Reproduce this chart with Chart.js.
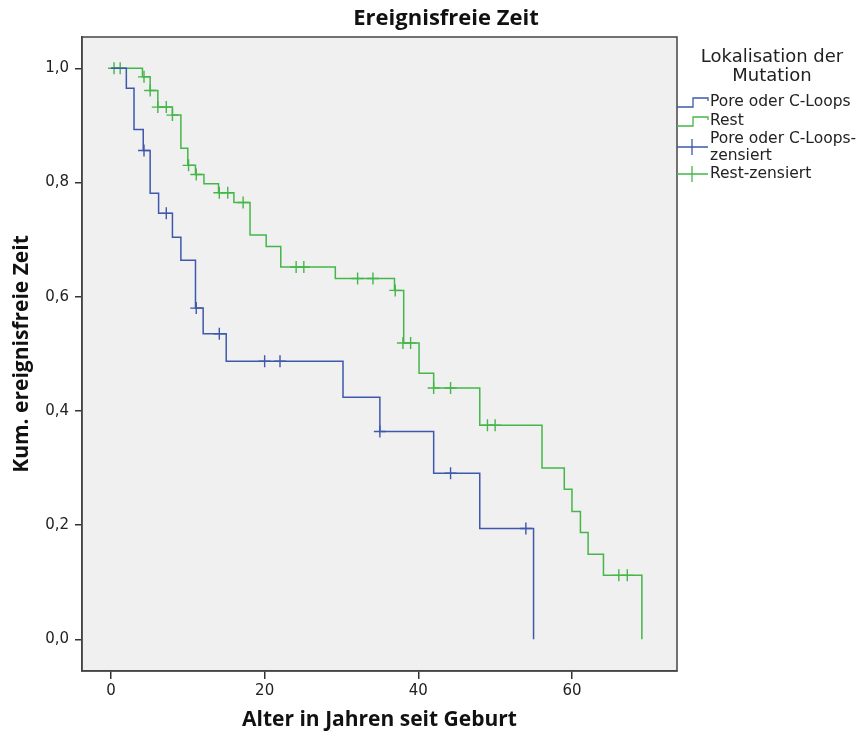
<!DOCTYPE html>
<html>
<head>
<meta charset="utf-8">
<script src="https://cdn.jsdelivr.net/npm/chart.js@4.4.1/dist/chart.umd.min.js"></script>
<style>
  html, body { margin: 0; padding: 0; background: #fff; }
  #wrap { width: 864px; height: 735px; position: relative; }
</style>
</head>
<body>
<div id="wrap"><canvas id="km" width="864" height="735"></canvas></div>
<script>
// Kaplan-Meier steps: time (years) and survival after the drop
const poreT = [0, 2, 3, 4.2, 5.1, 6.2, 8.0, 9.1, 11, 12, 15, 30.2, 35, 42, 48, 55];
const poreS = [1.0, 0.965, 0.893, 0.856, 0.781, 0.746, 0.704, 0.664, 0.58, 0.535, 0.487, 0.424, 0.364, 0.291, 0.194, 0.0];
const restT = [0, 4.1, 5.1, 6.1, 8, 9.1, 10, 11, 12.1, 14, 16, 18.1, 20.2, 22.1, 29.2, 36.9, 38.1, 40.1, 42, 48, 56.1, 59, 60, 61.1, 62.1, 64.1, 69.1];
const restS = [1.0, 0.985, 0.961, 0.932, 0.918, 0.86, 0.83, 0.814, 0.798, 0.782, 0.765, 0.708, 0.688, 0.652, 0.632, 0.611, 0.519, 0.466, 0.44, 0.375, 0.30, 0.263, 0.224, 0.187, 0.149, 0.112, 0.0];
// censored observations
const poreCensT = [4.3, 7.2, 11.1, 14.1, 20, 22, 35, 44.2, 54];
const poreCensS = [0.856, 0.746, 0.58, 0.535, 0.487, 0.487, 0.364, 0.291, 0.194];
const restCensT = [0.4, 1.2, 4.3, 5.1, 6.1, 7.2, 8, 10.1, 11.1, 14.1, 15.2, 17.2, 24.1, 25.1, 32.1, 34.1, 37, 38, 39, 42, 44.2, 49, 50, 66.1, 67.2];
const restCensS = [1.0, 1.0, 0.985, 0.961, 0.932, 0.932, 0.918, 0.83, 0.814, 0.782, 0.782, 0.765, 0.652, 0.652, 0.632, 0.632, 0.611, 0.519, 0.519, 0.44, 0.44, 0.375, 0.375, 0.112, 0.112];

const xTicks = [0, 20, 40, 60];
const yTicks = [0, 0.2, 0.4, 0.6, 0.8, 1.0];

const BLUE = '#3e58ac', GREEN = '#45b649';
const pts = (t, s) => t.map((v, i) => ({ x: v, y: s[i] }));

const frame = {
  id: 'frame',
  beforeDraw(c) {
    const a = c.chartArea, ctx = c.ctx;
    ctx.save();
    ctx.fillStyle = '#f0f0f0';
    ctx.fillRect(a.left, a.top, a.right - a.left, a.bottom - a.top);
    ctx.restore();
  },
  afterDraw(c) {
    const a = c.chartArea, ctx = c.ctx;
    ctx.save();
    ctx.strokeStyle = '#444';
    ctx.lineWidth = 1.5;
    ctx.strokeRect(a.left, a.top, a.right - a.left, a.bottom - a.top);

    // title
    ctx.fillStyle = '#111';
    ctx.textAlign = 'center';
    ctx.textBaseline = 'middle';
    ctx.font = 'bold 22px "Open Sans"';
    ctx.fillText('Ereignisfreie Zeit', 446, 19);

    // legend
    ctx.font = '18px "DejaVu Sans"';
    ctx.fillStyle = '#222';
    ctx.fillText('Lokalisation der', 772, 57);
    ctx.fillText('Mutation', 772, 76);
    ctx.textAlign = 'left';
    ctx.font = '15.5px "DejaVu Sans"';
    ctx.fillText('Pore oder C-Loops', 710, 102);
    ctx.fillText('Rest', 710, 121);
    ctx.fillText('Pore oder C-Loops-', 710, 139);
    ctx.fillText('zensiert', 710, 156);
    ctx.fillText('Rest-zensiert', 710, 174);

    ctx.lineWidth = 1.3;
    const step = (y, col) => {
      ctx.strokeStyle = col;
      ctx.beginPath();
      ctx.moveTo(677, y + 5); ctx.lineTo(693, y + 5); ctx.lineTo(693, y - 4);
      ctx.lineTo(708, y - 4); ctx.lineTo(708, y - 1);
      ctx.stroke();
    };
    step(102, BLUE);
    step(121, GREEN);
    const cens = (y, col) => {
      ctx.strokeStyle = col;
      ctx.beginPath();
      ctx.moveTo(677, y); ctx.lineTo(708, y);
      ctx.moveTo(692, y - 8); ctx.lineTo(692, y + 8);
      ctx.stroke();
    };
    cens(147, BLUE);
    cens(174, GREEN);
    ctx.restore();
  }
};

new Chart(document.getElementById('km'), {
  type: 'line',
  data: {
    datasets: [
      { label: 'Pore oder C-Loops', data: pts(poreT, poreS), stepped: 'before', borderColor: BLUE, borderWidth: 1.5, pointRadius: 0, fill: false },
      { label: 'Rest', data: pts(restT, restS), stepped: 'before', borderColor: GREEN, borderWidth: 1.5, pointRadius: 0, fill: false },
      { label: 'Pore oder C-Loops-zensiert', type: 'scatter', data: pts(poreCensT, poreCensS), pointStyle: 'cross', pointRadius: 6, borderColor: BLUE, borderWidth: 1.4 },
      { label: 'Rest-zensiert', type: 'scatter', data: pts(restCensT, restCensS), pointStyle: 'cross', pointRadius: 6, borderColor: GREEN, borderWidth: 1.4 }
    ]
  },
  options: {
    responsive: false,
    animation: false,
    layout: { padding: { top: 37, right: 187, left: 0, bottom: 0 } },
    plugins: { legend: { display: false }, tooltip: { enabled: false } },
    scales: {
      x: {
        type: 'linear', min: -3.77, max: 73.67,
        afterFit: s => { s.height = 64; },
        afterBuildTicks: s => { s.ticks = xTicks.map(v => ({ value: v })); },
        grid: { drawOnChartArea: false, tickLength: 8, color: '#333', lineWidth: 1.5 },
        border: { color: '#444', width: 1.5 },
        ticks: { padding: 3, color: '#222', font: { family: 'DejaVu Sans', size: 15 }, callback: v => String(v) },
        title: { display: true, text: 'Alter in Jahren seit Geburt', color: '#111', padding: { top: 0, bottom: 2 }, font: { family: 'Open Sans', size: 21, weight: 'bold' } }
      },
      y: {
        type: 'linear', min: -0.0555, max: 1.0548,
        afterFit: s => { s.width = 82; },
        afterBuildTicks: s => { s.ticks = yTicks.map(v => ({ value: v })); },
        grid: { drawOnChartArea: false, tickLength: 7, color: '#333', lineWidth: 1.5 },
        border: { color: '#444', width: 1.5 },
        ticks: { padding: 6, color: '#222', font: { family: 'DejaVu Sans', size: 15 }, callback: v => v.toFixed(1).replace('.', ',') },
        title: { display: true, text: 'Kum. ereignisfreie Zeit', color: '#111', padding: { top: 9, bottom: 0 }, font: { family: 'Open Sans', size: 21, weight: 'bold' } }
      }
    }
  },
  plugins: [frame]
});
</script>
</body>
</html>
